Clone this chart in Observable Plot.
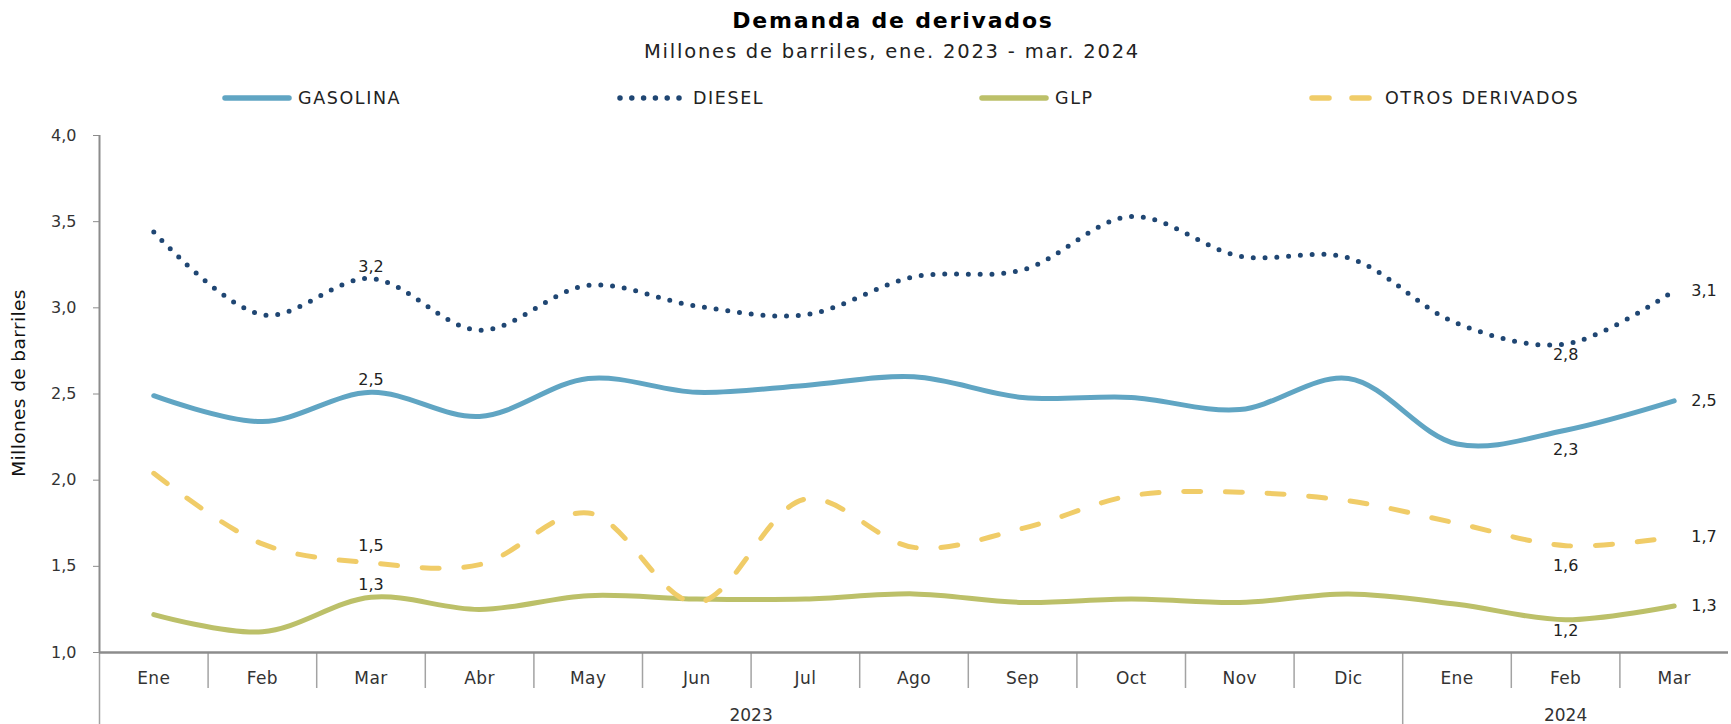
<!DOCTYPE html>
<html>
<head>
<meta charset="utf-8">
<script src="https://cdn.jsdelivr.net/npm/d3@7"></script>
<script src="https://cdn.jsdelivr.net/npm/@observablehq/plot@0.6"></script>
<style>
  body { margin: 0; background: #fff; font-family: "DejaVu Sans", sans-serif; }
  #wrap { position: relative; width: 1731px; height: 724px; overflow: hidden; }
  #head { position: relative; width: 1731px; height: 110px; }
  .t { position: absolute; transform: translate(-50%, -50%); white-space: nowrap; color: #000; }
  #title { left: 893px; top: 20px; font-size: 22px; font-weight: bold; letter-spacing: 1.8px; }
  #subtitle { left: 892px; top: 51px; font-size: 19.5px; color: #222; letter-spacing: 1.8px; }
  .leg { position: absolute; top: 88px; height: 20px; display: flex; align-items: center; font-size: 17.5px; color: #222; letter-spacing: 1.6px; }
  .leg svg { margin-right: 6px; }
  #chart svg { display: block; }
  #chart svg g.month text { letter-spacing: 0.4px; }
  #chart svg g.ytitle text { letter-spacing: 0.4px; }
</style>
</head>
<body>
<div id="wrap">
  <div id="head">
    <div id="title" class="t">Demanda de derivados</div>
    <div id="subtitle" class="t">Millones de barriles, ene. 2023 - mar. 2024</div>
  </div>
  <div id="chart"></div>
</div>
<script>
// ---- data ----
const months = ["Ene","Feb","Mar","Abr","May","Jun","Jul","Ago","Sep","Oct","Nov","Dic","Ene","Feb","Mar"];
const years = ["2023", "2024"];
const seriesNames = ["GASOLINA", "DIESEL", "GLP", "OTROS DERIVADOS"];
const gasolina = [2.49, 2.34, 2.51, 2.37, 2.59, 2.51, 2.55, 2.60, 2.48, 2.48, 2.41, 2.59, 2.21, 2.29, 2.46];
const diesel   = [3.44, 2.96, 3.17, 2.87, 3.13, 3.01, 2.96, 3.18, 3.22, 3.53, 3.30, 3.29, 2.91, 2.79, 3.10];
const glp      = [1.22, 1.12, 1.32, 1.25, 1.33, 1.31, 1.31, 1.34, 1.29, 1.31, 1.29, 1.34, 1.28, 1.19, 1.27];
const otros    = [2.04, 1.63, 1.52, 1.51, 1.81, 1.29, 1.89, 1.61, 1.72, 1.91, 1.93, 1.88, 1.75, 1.62, 1.67];
const yTicks = [1.0, 1.5, 2.0, 2.5, 3.0, 3.5, 4.0];
// labelled points: index of month (Mar 2023, Feb 2024, Mar 2024)
const labelIdx = [2, 13, 14];

// ---- styles ----
const styles = [
  {name: seriesNames[0], values: gasolina, color: "#60a5c3", dash: null,      above: -12, below: 20},
  {name: seriesNames[1], values: diesel,   color: "#1f4673", dash: "0 11.8",  above: -12, below: 11},
  {name: seriesNames[2], values: glp,      color: "#bcc069", dash: null,      above: -12, below: 11},
  {name: seriesNames[3], values: otros,    color: "#f0cc68", dash: "17 24.7", above: -17, below: 20}
];
const fmt = v => v.toFixed(1).replace(".", ",");
const FONT = "'DejaVu Sans', sans-serif";

// ---- legend ----
const legX = [222, 617, 979, 1309];
const head = document.getElementById("head");
styles.forEach((s, k) => {
  const d = document.createElement("div");
  d.className = "leg";
  d.style.left = legX[k] + "px";
  const dash = s.name === "DIESEL" ? "0 11.8" : (s.name === "OTROS DERIVADOS" ? "17 23" : "");
  d.innerHTML = `<svg width="70" height="12"><line x1="3" x2="67" y1="6" y2="6" stroke="${s.color}" stroke-width="5.5" stroke-linecap="round" ${dash ? `stroke-dasharray="${dash}"` : ""}/></svg><span>${s.name}</span>`;
  head.appendChild(d);
});

// ---- chart ----
const idx = d3.range(months.length);
const marks = [];
const axisColor = "#8c8c8c";
const sepColor = "#a3a3a3";
const txt = "#333";

// axes
marks.push(Plot.ruleX([-0.5], {y1: 1, y2: 4, stroke: axisColor, strokeWidth: 2}));
marks.push(Plot.axisY(yTicks, {tickSize: 6, tickPadding: 17, tickFormat: fmt, stroke: axisColor, fill: txt, fontSize: 16, label: null}));
marks.push(Plot.text(["Millones de barriles"], {frameAnchor: "left", textAnchor: "middle", rotate: -90, dx: -80, dy: -11, fontSize: 18.5, fill: "#111", className: "ytitle"}));
// month / year separators
const seps = d3.range(0.5, 14, 1).filter(v => v !== 11.5);
marks.push(Plot.axisX(seps, {tickSize: 36, tickFormat: () => "", stroke: sepColor, strokeWidth: 1.5, label: null}));
marks.push(Plot.axisX([-0.5, 11.5], {tickSize: 72, tickFormat: () => "", stroke: sepColor, strokeWidth: 1.5, label: null}));
marks.push(Plot.ruleY([1], {stroke: axisColor, strokeWidth: 2.5}));
marks.push(Plot.axisX(idx, {tickSize: 0, tickPadding: 19, tickFormat: i => months[i], fill: txt, fontSize: 17, label: null, className: "month"}));
marks.push(Plot.axisX([5.5, 13], {tickSize: 0, tickPadding: 56, tickFormat: v => (v < 12 ? years[0] : years[1]), fill: txt, fontSize: 17, label: null}));

// lines
styles.forEach(s => {
  const data = idx.map(i => ({i, v: s.values[i]}));
  marks.push(Plot.line(data, {x: "i", y: "v", stroke: s.color, strokeWidth: 5, strokeLinecap: "round", strokeLinejoin: "round", strokeDasharray: s.dash, curve: "catmull-rom"}));
});

// data labels
styles.forEach(s => {
  const [i0, i1, i2] = labelIdx;
  const common = {x: d => d, y: d => s.values[d], text: d => fmt(s.values[d]), fontSize: 16, fill: "#222"};
  marks.push(Plot.text([i0], {...common, dy: s.above}));
  marks.push(Plot.text([i1], {...common, dy: s.below}));
  marks.push(Plot.text([i2], {...common, dx: 17, textAnchor: "start"}));
});

const chart = Plot.plot({
  width: 1731,
  height: 614,
  marginLeft: 99,
  marginRight: 3,
  marginTop: 25,
  marginBottom: 72,
  style: {fontFamily: FONT, background: "#fff", overflow: "visible"},
  x: {type: "linear", domain: [-0.5, 14.5], axis: null},
  y: {domain: [1, 4], axis: null},
  marks
});
document.getElementById("chart").appendChild(chart);
</script>
</body>
</html>
